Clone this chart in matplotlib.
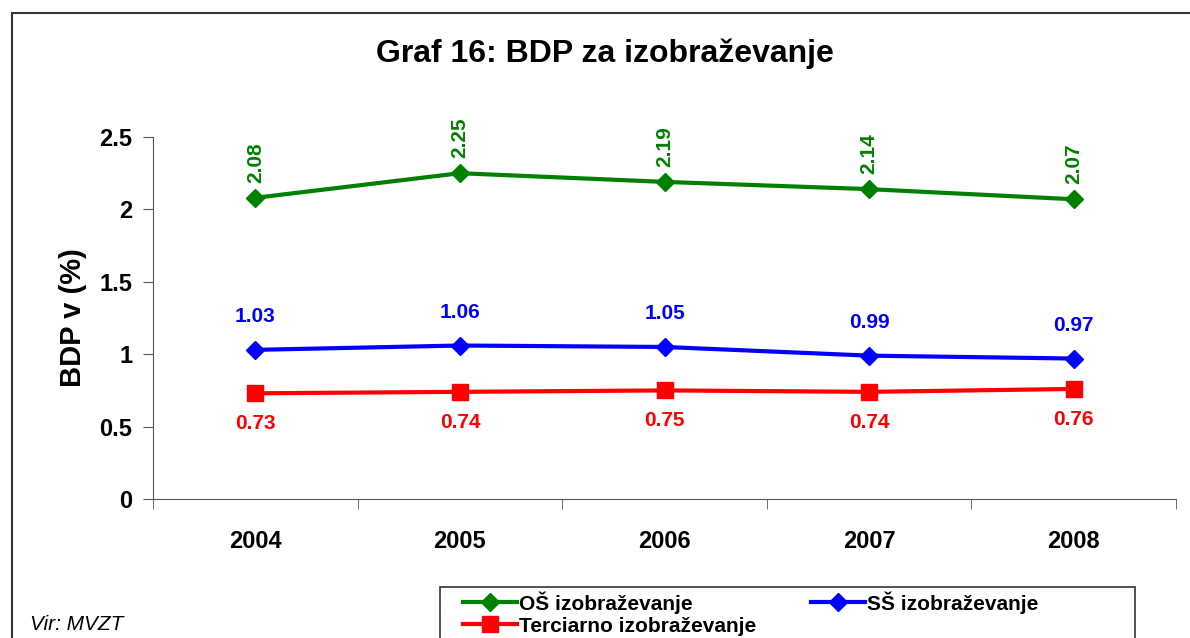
import matplotlib.pyplot as plt
from matplotlib.patches import Rectangle

plt.rcParams['font.family'] = ['Liberation Sans', 'DejaVu Sans']
plt.rcParams['font.weight'] = 'bold'

years = ['2004', '2005', '2006', '2007', '2008']
os_vals = [2.08, 2.25, 2.19, 2.14, 2.07]
ss_vals = [1.03, 1.06, 1.05, 0.99, 0.97]
ter_vals = [0.73, 0.74, 0.75, 0.74, 0.76]

fig = plt.figure(figsize=(11.9, 6.38), dpi=100)
ax = fig.add_axes([153 / 1190, 1 - 499 / 638, 1023 / 1190, 362 / 638])

x = range(len(years))
l1, = ax.plot(x, os_vals, color='#008000', lw=3, marker='D', ms=9, label='OŠ izobraževanje')
l2, = ax.plot(x, ss_vals, color='#0000FF', lw=3, marker='D', ms=9, label='SŠ izobraževanje')
l3, = ax.plot(x, ter_vals, color='#FF0000', lw=3, marker='s', ms=12, label='Terciarno izobraževanje')

for i, v in enumerate(os_vals):
    ax.annotate(f'{v:.2f}', (i, v), xytext=(0, 11), textcoords='offset points',
                rotation=90, ha='center', va='bottom', color='#008000', fontsize=15, fontweight='bold')
for i, v in enumerate(ss_vals):
    ax.annotate(f'{v:.2f}', (i, v), xytext=(0, 17), textcoords='offset points',
                ha='center', va='bottom', color='#0000FF', fontsize=15, fontweight='bold')
for i, v in enumerate(ter_vals):
    ax.annotate(f'{v:.2f}', (i, v), xytext=(0, -15), textcoords='offset points',
                ha='center', va='top', color='#FF0000', fontsize=15, fontweight='bold')

ax.set_xlim(-0.5, len(years) - 0.5)
ax.set_ylim(0, 2.5)
ax.set_yticks([0, 0.5, 1, 1.5, 2, 2.5])
ax.set_yticklabels(['0', '0.5', '1', '1.5', '2', '2.5'])
ax.set_xticks(list(x))
ax.set_xticklabels(years)
ax.set_xticks([i - 0.5 for i in range(len(years) + 1)], minor=True)
ax.tick_params(axis='x', which='major', length=0, pad=22, labelsize=17)
ax.tick_params(axis='x', which='minor', length=7, color='#555555')
ax.tick_params(axis='y', length=7, color='#555555', labelsize=17, pad=8)
for t in ax.get_xticklabels() + ax.get_yticklabels():
    t.set_fontweight('bold')
ax.spines['top'].set_visible(False)
ax.spines['right'].set_visible(False)
ax.spines['left'].set_color('#555555')
ax.spines['bottom'].set_color('#555555')
ax.set_ylabel('BDP v (%)', fontsize=21, fontweight='bold', labelpad=9)

fig.text(605 / 1190, 1 - 54 / 638, 'Graf 16: BDP za izobraževanje', ha='center', va='center',
         fontsize=23, fontweight='bold')
fig.text(30 / 1190, 1 - 624 / 638, 'Vir: MVZT', ha='left', va='center', fontsize=15,
         fontstyle='italic', fontweight='normal')

fig.patches.append(Rectangle((12 / 1190, -0.1), 1.2, 1 - 13 / 638 + 0.1, transform=fig.transFigure,
                             fill=False, edgecolor='#333333', lw=1.5, clip_on=False))
fig.patches.append(Rectangle((440 / 1190, -0.1), 695 / 1190, 1 - 587 / 638 + 0.1, transform=fig.transFigure,
                             fill=False, edgecolor='#333333', lw=1.2, clip_on=False))

leg = fig.legend(handles=[l1, l3, l2], loc='upper left', bbox_to_anchor=(463 / 1190, 1 - 591 / 638), ncol=2,
                 frameon=False, fontsize=15, handlelength=2.6, handletextpad=0.1,
                 columnspacing=2.6, labelspacing=0.15, borderaxespad=0, borderpad=0)
for t in leg.get_texts():
    t.set_fontweight('bold')

fig.savefig('out.png', dpi=100)
